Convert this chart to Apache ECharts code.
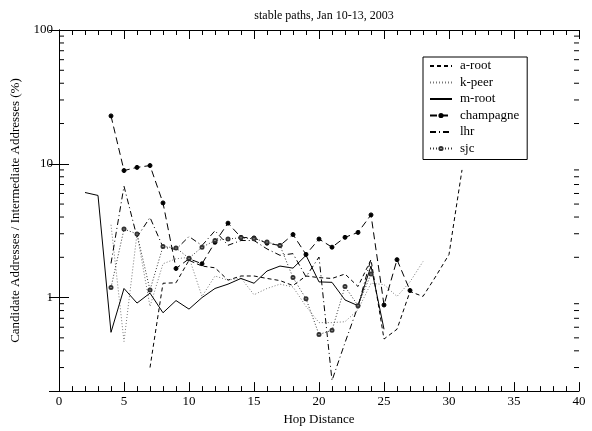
<!DOCTYPE html>
<html>
<head>
    <meta charset="utf-8">
    <script src="https://cdnjs.cloudflare.com/ajax/libs/echarts/6.0.0/echarts.min.js"></script>
</head>
<body>
    <div id="main"></div>
    <style>
html,body { margin: 0; padding: 0; background: #fff; }
#main { width: 592px; height: 431px; }
    </style>
    <script type="text/javascript">
// hop distance -> percentage
var aRootHops = [7,8,9,10,11,12,13,14,15,16,17,18,19,20,21,22,23,24,25,26,27,28,29,30,31];
var aRootVals = [0.30,1.28,1.29,1.9,1.72,1.67,1.35,1.45,1.45,1.39,1.34,1.23,1.45,1.41,1.39,1.5,1.21,1.92,0.49,0.58,1.11,1.02,1.45,2.1,9.0];

var kPeerHops = [4,5,6,7,8,9,10,11,12,13,14,15,16,17,18,19,20,21,22,23,24,25,26,27,28];
var kPeerVals = [3.5,0.47,3.0,0.86,1.79,1.95,2.0,1.02,1.45,1.35,1.4,1.05,1.17,1.26,1.2,0.86,0.65,0.65,0.66,0.81,1.28,1.25,1.02,1.31,1.86];

var mRootHops = [2,3,4,5,6,7,8,9,10,11,12,13,14,15,16,17,18,19,20,21,22,23,24,25];
var mRootVals = [6.1,5.8,0.55,1.17,0.91,1.08,0.77,0.95,0.82,1.0,1.17,1.26,1.39,1.28,1.58,1.72,1.66,2.07,1.31,1.3,0.96,0.87,1.72,0.58];

var champHops = [4,5,6,7,8,9,10,11,12,13,14,15,16,17,18,19,20,21,22,23,24,25,26,27];
var champVals = [22.8,8.9,9.4,9.7,5.1,1.65,1.95,1.79,2.59,3.6,2.82,2.79,2.55,2.45,2.96,2.1,2.74,2.38,2.82,3.07,4.15,0.88,1.92,1.13];

var lhrHops = [4,5,6,7,8,9,10,11,12,13,14,15,16,17,18,19,20,21,22,23,24];
var lhrVals = [1.8,6.8,2.83,3.97,2.38,2.29,2.86,2.45,3.16,2.46,2.67,2.67,2.31,2.07,2.13,1.43,2.01,0.24,0.46,0.86,1.95];

var sjcHops = [4,5,6,7,8,9,10,11,12,13,14,15,16,17,18,19,20,21,22,23,24];
var sjcVals = [1.19,3.25,2.99,1.14,2.41,2.35,1.97,2.38,2.67,2.74,2.8,2.75,2.6,2.45,1.41,0.98,0.53,0.57,1.21,0.87,1.5];

// minor ticks of the log axis
var minorTickVals = [0.3,0.4,0.5,0.6,0.7,0.8,0.9,2,3,4,5,6,7,8,9,20,30,40,50,60,70,80,90];

var xMin = 0, xMax = 40, yMin = 0.2, yMax = 100;
var font = '"Liberation Serif", "DejaVu Serif", serif';

function pairs(xs, ys) {
    return xs.map(function (x, i) { return [x, ys[i]]; });
}

function lineSeries(name, xs, ys, style) {
    return {
        name: name,
        type: 'line',
        data: pairs(xs, ys),
        symbol: style.symbol || 'none',
        symbolSize: style.symbolSize || 0,
        showSymbol: !!style.symbol,
        animation: false,
        lineStyle: { color: style.color, width: style.width || 1, type: style.type },
        itemStyle: { color: style.color, borderColor: style.color, borderWidth: 1 },
        emphasis: { disabled: true }
    };
}

// legend entries: hide the marker for plain lines
function legendItem(name, withDot) {
    return { name: name, itemStyle: { opacity: withDot ? 1 : 0 } };
}

var chart = echarts.init(document.getElementById('main'));
var option = {
    animation: false,
    title: {
        text: 'stable paths, Jan 10-13, 2003',
        left: 319, textAlign: 'center', top: 5,
        textStyle: { fontFamily: font, fontSize: 12, fontWeight: 'normal', color: '#000' }
    },
    legend: {
        orient: 'vertical',
        left: 423, top: 57,
        width: 110,
        padding: [2, 8, 4, 6],
        itemGap: 2.5,
        itemWidth: 22, itemHeight: 4,
        backgroundColor: '#fff',
        borderColor: '#000', borderWidth: 1,
        textStyle: { fontFamily: font, fontSize: 13, color: '#000', lineHeight: 14, padding: [0, 0, 0, 3] },
        data: [
            legendItem('a-root', false),
            legendItem('k-peer', false),
            legendItem('m-root', false),
            legendItem('champagne', true),
            legendItem('lhr', false),
            legendItem('sjc', true)
        ]
    },
    grid: { left: 59, right: 13, top: 30, bottom: 36, containLabel: false },
    xAxis: [{
        type: 'value', min: xMin, max: xMax, interval: 5,
        name: 'Hop Distance', nameLocation: 'middle', nameGap: 19,
        nameTextStyle: { fontFamily: font, fontSize: 13, color: '#000' },
        axisLine: { lineStyle: { color: '#000', width: 1 } },
        axisTick: { inside: true, length: 9, lineStyle: { color: '#000' } },
        minorTick: { show: true, splitNumber: 5, length: 5, lineStyle: { color: '#000' } },
        axisLabel: { fontFamily: font, fontSize: 13, color: '#000', margin: 4 },
        splitLine: { show: false }
    }, {
        type: 'value', min: xMin, max: xMax, interval: 5, position: 'top',
        axisLine: { lineStyle: { color: '#000', width: 1 } },
        axisTick: { inside: true, length: 9, lineStyle: { color: '#000' } },
        minorTick: { show: true, splitNumber: 5, length: 5, lineStyle: { color: '#000' } },
        axisLabel: { show: false },
        splitLine: { show: false }
    }],
    yAxis: [{
        type: 'log', logBase: 10, min: yMin, max: yMax,
        name: 'Candidate Addresses / Intermediate Addresses (%)',
        nameLocation: 'middle', nameGap: 37,
        nameTextStyle: { fontFamily: font, fontSize: 13, color: '#000' },
        axisLine: { lineStyle: { color: '#000', width: 1 } },
        axisTick: { inside: true, length: 10, lineStyle: { color: '#000' } },
        axisLabel: {
            fontFamily: font, fontSize: 13, color: '#000', margin: 6,
            formatter: function (v) {
                var l = Math.log10(v);
                return Math.abs(l - Math.round(l)) < 1e-6 ? String(Math.round(v)) : '';
            }
        },
        splitLine: { show: false }
    }, {
        type: 'log', logBase: 10, min: yMin, max: yMax, position: 'right',
        axisLine: { lineStyle: { color: '#000', width: 1 } },
        axisTick: { inside: true, length: 10, lineStyle: { color: '#000' } },
        axisLabel: { show: false },
        splitLine: { show: false }
    }],
    series: [
        lineSeries('a-root', aRootHops, aRootVals, { color: '#000', type: [4, 3] }),
        lineSeries('k-peer', kPeerHops, kPeerVals, { color: '#777', type: [1, 2] }),
        lineSeries('m-root', mRootHops, mRootVals, { color: '#000', type: 'solid' }),
        lineSeries('champagne', champHops, champVals, { color: '#000', type: [7, 4], symbol: 'circle', symbolSize: 4 }),
        lineSeries('lhr', lhrHops, lhrVals, { color: '#000', type: [6, 3, 1, 3] }),
        lineSeries('sjc', sjcHops, sjcVals, { color: '#333', type: [1, 2], symbol: 'emptyCircle', symbolSize: 3 }),
        {
            type: 'custom',
            silent: true,
            data: minorTickVals,
            encode: { y: 0 },
            renderItem: function (params, api) {
                var v = api.value(0);
                var l = api.coord([xMin, v]);
                var r = api.coord([xMax, v]);
                return {
                    type: 'group',
                    children: [
                        { type: 'line', shape: { x1: l[0], y1: l[1], x2: l[0] + 5, y2: l[1] }, style: { stroke: '#000', lineWidth: 1 } },
                        { type: 'line', shape: { x1: r[0], y1: r[1], x2: r[0] - 5, y2: r[1] }, style: { stroke: '#000', lineWidth: 1 } }
                    ]
                };
            }
        }
    ]
};
chart.setOption(option);
    </script>
</body>
</html>
